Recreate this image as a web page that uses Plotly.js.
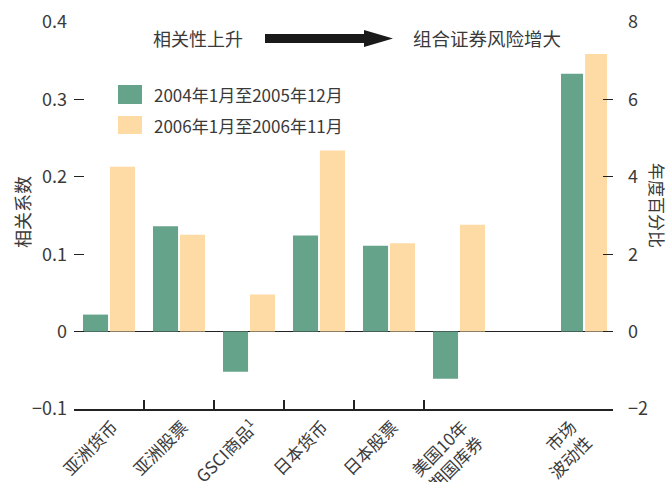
<!DOCTYPE html>
<html>
<head>
<meta charset="utf-8">
<script src="https://cdn.plot.ly/plotly-3.0.1.min.js"></script>
<style>html,body{margin:0;padding:0;background:#fff;}#chart{width:669px;height:482px;}</style>
</head>
<body>
<div id="chart"></div>
<script>
// ---- data ----
const categories = ['亚洲货币', '亚洲股票', 'GSCI商品<sup>1</sup>', '日本货币', '日本股票', '美国10年<br>期国库券'];
const corr2004 = [0.022, 0.136, -0.052, 0.124, 0.111, -0.061];
const corr2006 = [0.213, 0.125, 0.048, 0.234, 0.114, 0.138];
const volCategory = ['市场<br>波动性'];
const vol2004 = [6.66];
const vol2006 = [7.17];
const seriesNames = ['2004年1月至2005年12月', '2006年1月至2006年11月'];
const leftTickVals = [-0.1, 0, 0.1, 0.2, 0.3, 0.4];
const leftTickText = ['−0.1', '0', '0.1', '0.2', '0.3', '0.4'];
const rightTickVals = [-2, 0, 2, 4, 6, 8];
const rightTickText = ['−2', '0', '2', '4', '6', '8'];
const leftTitle = '相关系数';
const rightTitle = '年度百分比';
const noteLeft = '相关性上升';
const noteRight = '组合证券风险增大';

// ---- style ----
const GREEN = '#65A48A';
const ORANGE = '#FEDBA4';
const FONT = '"Noto Sans CJK SC", "Noto Sans", sans-serif';
const TXT = '#3a3a3a';
const W = 669, H = 482, ML = 74, MR = 56, MT = 22, MB = 73;
const PW = W - ML - MR, PH = H - MT - MB;
const px = x => (x - ML) / PW;
const py = y => (H - MB - y) / PH;
const splitX = 420 / PW;

const traces = [
  {type: 'bar', x: categories, y: corr2004, name: seriesNames[0], marker: {color: GREEN}, xaxis: 'x', yaxis: 'y', showlegend: false},
  {type: 'bar', x: categories, y: corr2006, name: seriesNames[1], marker: {color: ORANGE}, xaxis: 'x', yaxis: 'y', showlegend: false},
  {type: 'bar', x: volCategory, y: vol2004, name: seriesNames[0], marker: {color: GREEN}, xaxis: 'x2', yaxis: 'y2', offset: 0.063, width: 0.185, showlegend: false},
  {type: 'bar', x: volCategory, y: vol2006, name: seriesNames[1], marker: {color: ORANGE}, xaxis: 'x2', yaxis: 'y2', offset: 0.265, width: 0.185, showlegend: false}
];

const xCommon = {
  type: 'category', showline: true, linecolor: '#222', linewidth: 1.5,
  ticks: 'inside', tickson: 'boundaries', ticklen: 9, tickcolor: '#222', tickwidth: 1.2,
  tickangle: -45, tickfont: {family: FONT, size: 17, color: TXT},
  showgrid: false, zeroline: false, fixedrange: true
};

const layout = {
  width: W, height: H,
  margin: {l: ML, r: MR, t: MT, b: MB, pad: 0},
  paper_bgcolor: '#fff', plot_bgcolor: '#fff',
  barmode: 'group', bargap: 0.23, bargroupgap: 0.07,
  showlegend: false,
  font: {family: FONT, color: TXT},
  xaxis: Object.assign({}, xCommon, {domain: [0, splitX], anchor: 'y', ticklabelshift: 4}),
  xaxis2: Object.assign({}, xCommon, {domain: [splitX, 1], anchor: 'y2', range: [-0.5, 0.5], ticklabelshift: 18}),
  yaxis: {
    domain: [0, 1], anchor: 'x', range: [-0.1, 0.4], tickmode: 'array', tickvals: leftTickVals, ticktext: leftTickText,
    ticks: 'inside', ticklen: 10, tickcolor: '#222', tickwidth: 1.2, showline: false, showgrid: false,
    zeroline: true, zerolinecolor: '#222', zerolinewidth: 1.5,
    tickfont: {family: FONT, size: 18, color: TXT}, ticklabelstandoff: 6, fixedrange: true
  },
  yaxis2: {
    domain: [0, 1], anchor: 'x2', side: 'right', range: [-2, 8], tickmode: 'array', tickvals: rightTickVals, ticktext: rightTickText,
    ticks: 'inside', ticklen: 10, tickcolor: '#222', tickwidth: 1.2, showline: false, showgrid: false,
    zeroline: true, zerolinecolor: '#222', zerolinewidth: 1.5,
    tickfont: {family: FONT, size: 18, color: TXT}, ticklabelstandoff: 14, fixedrange: true
  },
  shapes: [
    // legend swatches
    {type: 'rect', xref: 'paper', yref: 'paper', x0: px(118), x1: px(142), y0: py(104), y1: py(85), fillcolor: GREEN, line: {width: 0}},
    {type: 'rect', xref: 'paper', yref: 'paper', x0: px(118), x1: px(142), y0: py(134), y1: py(116), fillcolor: ORANGE, line: {width: 0}},
    // arrow shaft + head
    {type: 'path', xref: 'paper', yref: 'paper',
     path: `M ${px(265)} ${py(34)} L ${px(364)} ${py(34)} L ${px(364)} ${py(30)} L ${px(393)} ${py(38.5)} L ${px(364)} ${py(47)} L ${px(364)} ${py(43)} L ${px(265)} ${py(43)} Z`,
     fillcolor: '#1a1a1a', line: {width: 0}}
  ],
  annotations: [
    {xref: 'paper', yref: 'paper', x: px(152), y: py(95), text: seriesNames[0], showarrow: false, xanchor: 'left', yanchor: 'middle', font: {family: FONT, size: 17, color: TXT}},
    {xref: 'paper', yref: 'paper', x: px(152), y: py(125), text: seriesNames[1], showarrow: false, xanchor: 'left', yanchor: 'middle', font: {family: FONT, size: 17, color: TXT}},
    {xref: 'paper', yref: 'paper', x: px(151), y: py(38), text: noteLeft, showarrow: false, xanchor: 'left', yanchor: 'middle', font: {family: FONT, size: 18, color: TXT}},
    {xref: 'paper', yref: 'paper', x: px(411), y: py(38), text: noteRight, showarrow: false, xanchor: 'left', yanchor: 'middle', font: {family: FONT, size: 18.5, color: TXT}},
    {xref: 'paper', yref: 'paper', x: px(22), y: py(212), text: leftTitle, showarrow: false, textangle: -90, xanchor: 'center', yanchor: 'middle', font: {family: FONT, size: 18, color: TXT}},
    {xref: 'paper', yref: 'paper', x: px(657), y: py(205), text: rightTitle, showarrow: false, textangle: 90, xanchor: 'center', yanchor: 'middle', font: {family: FONT, size: 17, color: TXT}}
  ]
};

Plotly.newPlot('chart', traces, layout, {displayModeBar: false, staticPlot: true});
</script>
</body>
</html>
